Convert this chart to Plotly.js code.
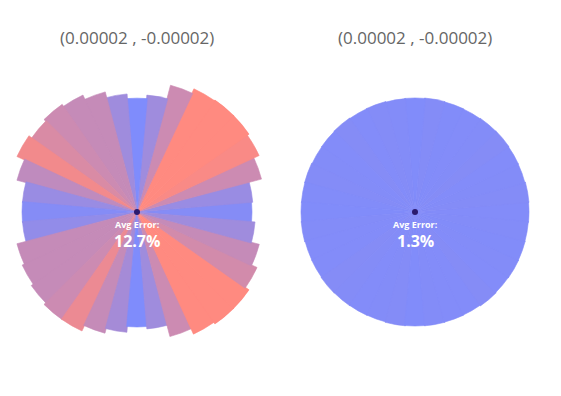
<!DOCTYPE html>
<html>
<head>
<meta charset="utf-8">
<script src="https://cdn.plot.ly/plotly-3.0.1.min.js"></script>
<style>html,body{margin:0;padding:0;background:#fff;}#chart{width:561px;height:396px;}</style>
</head>
<body>
<div id="chart"></div>
<script>
const theta = [0,10,20,30,40,50,60,70,80,90,100,110,120,130,140,150,160,170,180,190,200,210,220,230,240,250,260,270,280,290,300,310,320,330,340,350];
const leftRadius = [1.00,1.01,1.12,1.17,1.19,1.19,1.18,1.14,1.02,0.99,1.03,1.08,1.12,1.14,1.12,1.15,1.08,1.00,1.00,1.00,1.08,1.10,1.12,1.14,1.14,1.09,1.05,1.00,1.02,1.12,1.17,1.19,1.19,1.15,1.10,1.03];
const leftError = [0.9,3.6,10.8,17.1,18,18,18,10.8,4.5,0,4.5,9.9,9.9,10.8,12.6,16.2,9,3.6,0.9,2.7,9.9,9.9,9.9,10.8,15.3,9.9,5.4,0,4.5,10.8,18,18,18,11.7,9.9,4.5];
const rightRadius = [1.000,1.003,0.998,1.000,1.004,1.002,0.998,1.000,1.003,1.000,0.998,1.002,1.000,1.004,1.000,0.998,1.002,1.000,1.000,1.002,0.998,1.000,1.004,1.002,1.000,0.998,1.002,1.000,1.002,1.000,0.998,1.004,1.000,1.002,1.000,0.998];
const rightError = [0.5,0.7,0.6,0.5,0.8,0.6,0.5,0.4,0.7,0.3,0.6,0.7,0.5,0.8,0.5,0.6,0.7,0.4,0.3,0.6,0.5,0.5,0.8,0.7,0.5,0.6,0.7,0.3,0.6,0.5,0.5,0.8,0.5,0.6,0.4,0.6];
const titles = ["(0.00002 , -0.00002)", "(0.00002 , -0.00002)"];
const avgErrors = ["12.7%", "1.3%"];

const colorscale = [[0,'#7f8cfc'],[1,'#ff8a80']];
function wedges(r, err, sub) {
  return {
    type: 'barpolar', r: r, theta: theta, width: theta.map(() => 10.4), subplot: sub,
    marker: {color: err, cmin: 0, cmax: 18, colorscale: colorscale, showscale: false,
      line: {width: 0.6, color: err, cmin: 0, cmax: 18, colorscale: colorscale}},
    hoverinfo: 'skip'
  };
}
function dot(sub) {
  return {type: 'scatterpolar', r: [0], theta: [0], mode: 'markers', subplot: sub,
    marker: {color: '#2b1b6e', size: 6}, hoverinfo: 'skip'};
}
const data = [wedges(leftRadius, leftError, 'polar'), dot('polar'), wedges(rightRadius, rightError, 'polar2'), dot('polar2')];

const polarBase = {
  bgcolor: 'rgba(0,0,0,0)', bargap: 0,
  radialaxis: {visible: false, range: [0, 1.19]},
  angularaxis: {visible: false, showgrid: false}
};
const cx = [137/561, 415/561];
const layout = {
  width: 561, height: 396, margin: {l: 0, r: 0, t: 0, b: 0},
  paper_bgcolor: '#fff', showlegend: false,
  polar: Object.assign({}, polarBase, {domain: {x: [0.00027, 0.48815], y: [0.1187, 0.8106]}}),
  polar2: Object.assign({}, polarBase, {domain: {x: [0.4979, 0.9816], y: [0.1187, 0.8106]}}),
  annotations: []
};
for (let i = 0; i < 2; i++) {
  layout.annotations.push({xref: 'paper', yref: 'paper', x: cx[i], y: 1 - 37/396, xanchor: 'center', yanchor: 'middle',
    text: titles[i], showarrow: false, font: {family: 'Open Sans', size: 17, color: '#666666'}});
  layout.annotations.push({xref: 'paper', yref: 'paper', x: cx[i], y: 1 - 224/396, xanchor: 'center', yanchor: 'middle',
    text: '<b>Avg Error:</b>', showarrow: false, font: {family: 'Open Sans', size: 9, color: '#ffffff'}});
  layout.annotations.push({xref: 'paper', yref: 'paper', x: cx[i], y: 1 - 241/396, xanchor: 'center', yanchor: 'middle',
    text: '<b>' + avgErrors[i] + '</b>', showarrow: false, font: {family: 'Open Sans', size: 16, color: '#ffffff'}});
}
Plotly.newPlot('chart', data, layout, {displayModeBar: false});
</script>
</body>
</html>
